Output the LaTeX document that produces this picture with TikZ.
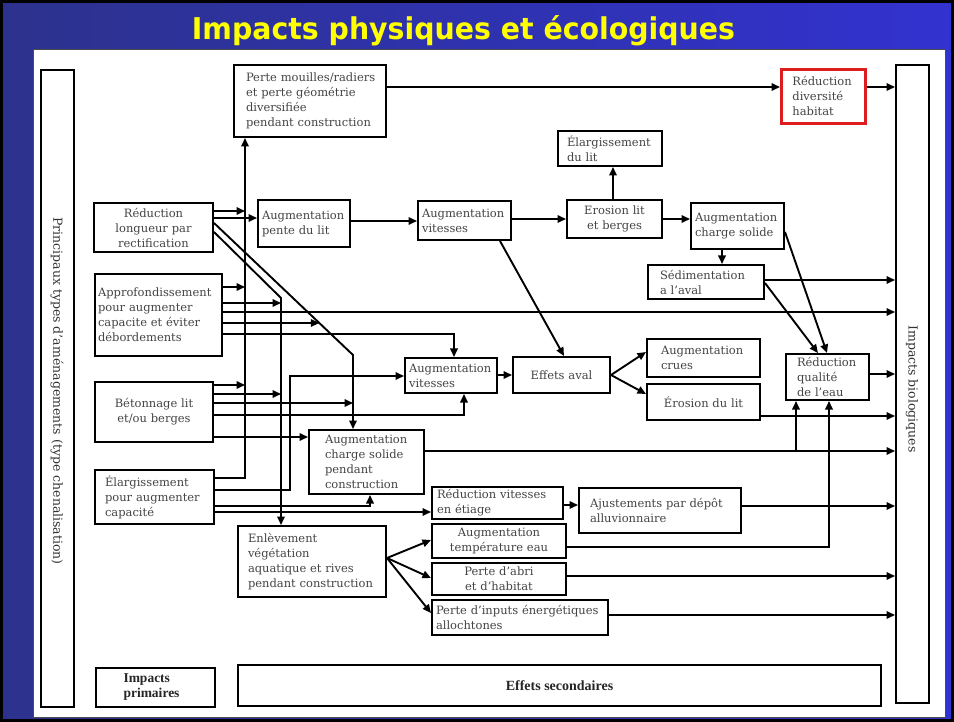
\documentclass[tikz,border=0pt]{standalone}
\usepackage{fontspec}
\usepackage{graphicx}
\setmainfont{DejaVu Serif}
\newfontfamily\titlefont{DejaVu Sans}
\newfontfamily\labfont{Liberation Serif}
\usetikzlibrary{arrows.meta,calc}
\definecolor{bgL}{RGB}{44,50,140}
\definecolor{bgR}{RGB}{50,50,208}
\definecolor{txt}{RGB}{68,68,68}
\definecolor{redb}{RGB}{222,30,30}
\definecolor{ttl}{RGB}{255,255,0}
\begin{document}
\begin{tikzpicture}[x=1pt,y=-1pt,
  bx/.style={draw=black, line width=2pt, text=txt, font=\fontsize{11.5}{15}\selectfont, inner ysep=1pt, inner xsep=0pt, anchor=north west},
  lbox/.style n args={3}{bx, minimum width=#1, minimum height=#2, text width=#3, align=left},
  cbox/.style n args={3}{bx, minimum width=#1, minimum height=#2, text width=#3, align=center},
  arr/.style={line width=1.9pt, -{Triangle[length=8.5pt,width=7.5pt]}},
]
\useasboundingbox (0,0) rectangle (954,722);
% background
\fill[left color=bgL, right color=bgR] (0,0) rectangle (954,722);
\draw[black, line width=3pt] (1.5,1.5) rectangle (952.5,720.5);
\fill[white, draw=black!70, line width=0.6pt] (33,49) rectangle (945,717);
\node[text=ttl, anchor=base, font=\titlefont\bfseries\fontsize{30}{36}\selectfont] (title) at (463.5,40) {\scalebox{0.946}[1]{Impacts physiques et écologiques}};

% side boxes
\node[bx, minimum width=33pt, minimum height=637pt] (princ) at (40,69) {};
\node[rotate=-90, text=black!80, font=\fontsize{12.5}{15}\selectfont] (princt) at (57,391) {Principaux types d'aménagements (type chenalisation)};
\node[bx, minimum width=33pt, minimum height=638pt] (bio) at (895,64) {};
\node[rotate=-90, text=black!80, font=\fontsize{12.5}{15}\selectfont] (biot) at (912,389) {Impacts biologiques};

% bottom boxes
\node[bx, minimum width=119pt, minimum height=39pt, text width=64pt, align=left, text=black!85, font=\labfont\bfseries\fontsize{13.5}{15}\selectfont] (prim) at (95,667) {Impacts\\primaires};
\node[bx, minimum width=643pt, minimum height=41pt, align=center, text=black!85, font=\labfont\bfseries\fontsize{14}{15}\selectfont] (sec) at (237,664) {Effets secondaires};

% boxes
\node[lbox={152pt}{72pt}{128pt}] (perte) at (233,64) {Perte~mouilles/radiers\\et~perte~géométrie\\diversifiée\\pendant~construction};
\node[lbox={84pt}{54pt}{62pt}, draw=redb, line width=2.8pt] (rdh) at (780,68) {Réduction\\diversité\\habitat};
\node[cbox={119pt}{49pt}{115pt}] (red) at (93,202) {Réduction\\longueur~par\\rectification};
\node[lbox={92pt}{47pt}{84pt}] (augpente) at (257,199) {Augmentation\\pente~du~lit};
\node[lbox={93pt}{39pt}{85pt}] (augvit1) at (417,200) {Augmentation\\vitesses};
\node[lbox={104pt}{35pt}{86pt}] (elarglit) at (557,130) {Élargissement\\du~lit};
\node[cbox={95pt}{38pt}{91pt}] (erosion) at (566,199) {Erosion~lit\\et~berges};
\node[lbox={93pt}{46pt}{85pt}] (augcharge) at (690,202) {Augmentation\\charge~solide};
\node[lbox={116pt}{34pt}{92pt}] (sedim) at (647,264) {Sédimentation\\a~l'aval};
\node[lbox={127pt}{82pt}{121pt}] (approf) at (94,273) {Approfondissement\\pour~augmenter\\capacite~et~éviter\\débordements};
\node[cbox={118pt}{60pt}{114pt}] (beton) at (94,381) {Bétonnage~lit\\et/ou~berges};
\node[lbox={92pt}{35pt}{84pt}] (augvit2) at (404,357) {Augmentation\\vitesses};
\node[cbox={97pt}{36pt}{93pt}] (effets) at (512,356) {Effets~aval};
\node[lbox={113pt}{38pt}{85pt}] (crues) at (646,338) {Augmentation\\crues};
\node[cbox={113pt}{36pt}{109pt}] (erolit) at (646,383) {Érosion~du~lit};
\node[lbox={83pt}{46pt}{61pt}] (rqe) at (785,353) {Réduction\\qualité\\de~l'eau};
\node[lbox={115pt}{64pt}{83pt}] (acspc) at (308,429) {Augmentation\\charge~solide\\pendant\\construction};
\node[lbox={119pt}{54pt}{99pt}] (elarg) at (94,469) {Élargissement\\pour~augmenter\\capacité};
\node[lbox={148pt}{71pt}{128pt}] (enlev) at (237,525) {Enlèvement\\végétation\\aquatique~et~rives\\pendant~construction};
\node[lbox={131pt}{32pt}{121pt}] (rve) at (431,486) {Réduction~vitesses\\en~étiage};
\node[lbox={162pt}{45pt}{140pt}] (ajust) at (578,487) {Ajustements~par~dépôt\\alluvionnaire};
\node[cbox={134pt}{34pt}{130pt}] (augtemp) at (431,523) {Augmentation\\température~eau};
\node[cbox={134pt}{32pt}{130pt}] (abri) at (431,562) {Perte~d'abri\\et~d'habitat};
\node[lbox={176pt}{35pt}{168pt}] (inputs) at (431,599) {Perte~d'inputs~énergétiques\\allochtones};

% connectors
\draw[arr] (perte.east |- 0,87) -- (rdh.west |- 0,87);
\draw[arr] (rdh.east |- 0,87) -- (bio.west |- 0,87);

\coordinate (t1) at (245,478);
\draw[arr] (elarg.east |- t1) -| (perte.south -| t1);
\draw[arr] (red.east |- 0,211) -- (t1 |- 0,211);
\draw[arr] (approf.east |- 0,287) -- (t1 |- 0,287);
\draw[arr] (beton.east |- 0,385) -- (t1 |- 0,385);

\draw[arr] (red.east |- 0,218) -- (augpente.west |- 0,218);
\draw[arr] (augpente.east |- 0,221) -- (augvit1.west |- 0,221);
\draw[arr] (augvit1.east |- 0,219) -- (erosion.west |- 0,219);
\draw[arr] (erosion.north -| 613,0) -- (elarglit.south -| 613,0);
\draw[arr] (erosion.east |- 0,219) -- (augcharge.west |- 0,219);
\draw[arr] (augcharge.south -| 722,0) -- (sedim.north -| 722,0);
\draw[arr] (augcharge.east |- 0,232) -- (rqe.north -| 827,0);
\draw[arr] (sedim.east |- 0,283) -- (rqe.north -| 818,0);
\draw[arr] (sedim.east |- 0,280) -- (bio.west |- 0,280);
\draw[arr] (augvit1.south -| 500,0) -- (effets.north -| 564,0);
\draw[arr] (approf.east |- 0,312) -- (bio.west |- 0,312);

\coordinate (d1) at (281,298);
\coordinate (d2) at (353,355);
\coordinate (s2) at (red.east |- 0,223);
\draw[arr] (red.east |- 0,232) -- (d1) -- (enlev.north -| d1);
\draw[arr] (s2) -- (d2) -- (acspc.north -| d2);
\coordinate (pb) at ($(s2)!{(323-223)/(355-223)}!(d2)$);
\draw[arr] (approf.east |- 0,303) -- (d1 |- 0,303);
\draw[arr] (beton.east |- 0,394) -- (d1 |- 0,394);
\draw[arr] (approf.east |- 0,323) -- (pb);
\draw[arr] (beton.east |- 0,403) -- (d2 |- 0,403);

\draw[arr] (approf.east |- 0,334) -| (augvit2.north -| 454,0);
\draw[arr] (beton.east |- 0,415) -| (augvit2.south -| 464,0);
\draw[arr] (beton.east |- 0,437) -- (acspc.west |- 0,437);
\coordinate (c290) at (290,376);
\draw[arr] (elarg.east |- 0,490) -| (c290) -- (augvit2.west |- c290);
\draw[arr] (elarg.east |- 0,506) -| (acspc.south -| 370,0);
\draw[arr] (elarg.east |- 0,512) -- (rve.west |- 0,512);

\draw[arr] (augvit2.east |- 0,375) -- (effets.west |- 0,375);
\coordinate (ef) at (effets.east |- 0,375);
\draw[arr] (ef) -- (crues.west |- 0,352);
\draw[arr] (ef) -- (erolit.west |- 0,394);
\draw[arr] (erolit.east |- 0,416) -- (bio.west |- 0,416);
\draw[arr] (rqe.east |- 0,374) -- (bio.west |- 0,374);
\draw[arr] (acspc.east |- 0,451) -- (bio.west |- 0,451);
\coordinate (b796) at (796,451);
\draw[arr] (b796) -- (rqe.south -| b796);
\draw[arr] (rve.east |- 0,505) -- (ajust.west |- 0,505);
\draw[arr] (ajust.east |- 0,506) -- (bio.west |- 0,506);
\draw[arr] (augtemp.east |- 0,547) -| (rqe.south -| 829,0);
\draw[arr] (abri.east |- 0,576) -- (bio.west |- 0,576);
\draw[arr] (inputs.east |- 0,615) -- (bio.west |- 0,615);
\coordinate (en) at (enlev.east |- 0,558);
\draw[arr] (en) -- (augtemp.west |- 0,540);
\draw[arr] (en) -- (abri.west |- 0,578);
\draw[arr] (en) -- (inputs.west |- 0,613);
\end{tikzpicture}
\end{document}
